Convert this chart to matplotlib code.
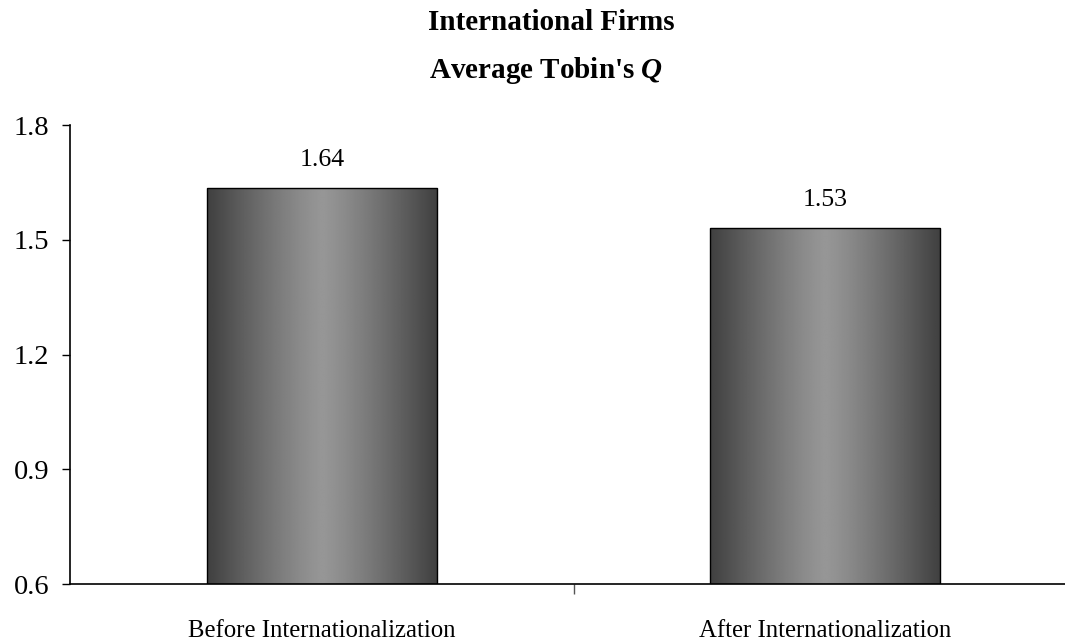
import matplotlib
matplotlib.use("Agg")
import matplotlib.pyplot as plt
import numpy as np

categories = ["Before Internationalization", "After Internationalization"]
values = [1.635, 1.530]
value_labels = ["1.64", "1.53"]
yticks = [0.6, 0.9, 1.2, 1.5, 1.8]
title1 = "International Firms"
title2 = r"Average Tobin's $\mathbfit{Q}$"

plt.rcParams['font.family'] = ['Liberation Serif', 'DejaVu Serif']
plt.rcParams['mathtext.fontset'] = 'custom'
plt.rcParams['mathtext.rm'] = 'Liberation Serif'
plt.rcParams['mathtext.bf'] = 'Liberation Serif:bold'
plt.rcParams['mathtext.it'] = 'Liberation Serif:italic'
plt.rcParams['mathtext.bfit'] = 'Liberation Serif:bold:italic'

W, H = 1065, 642
fig = plt.figure(figsize=(W/100, H/100), dpi=100)
ax = fig.add_axes([70/W, (H-584)/H, (1077-70)/W, (584-125)/H])

x = np.arange(len(categories))
bars = ax.bar(x, values, width=0.457, facecolor='none', edgecolor='black', linewidth=1.0, zorder=3)

# horizontal gradient: dark edges, light centre
t = np.linspace(-1, 1, 256)
shade = 0.25 + (0.59 - 0.25) * (1 - np.abs(t) ** 1.2)
grad = np.tile(shade, (2, 1))
for b in bars:
    x0, y0 = b.get_x(), b.get_y()
    w, h = b.get_width(), b.get_height()
    ax.imshow(grad, cmap='gray', vmin=0, vmax=1, aspect='auto',
              extent=[x0, x0 + w, 0.6, y0 + h], zorder=2, interpolation='bilinear')

for xi, v, lab in zip(x, values, value_labels):
    ax.annotate(lab, (xi, v), xytext=(0, 20.5), textcoords='offset points',
                ha='center', va='center', fontsize=18.5)

ax.set_xlim(-0.5, 1.5)
ax.set_ylim(0.6, 1.8)
ax.set_yticks(yticks)
ax.set_yticklabels([f"{v:.1f}" for v in yticks], fontsize=20.5)
ax.set_xticks(x)
ax.set_xticklabels(categories, fontsize=17.8)
ax.set_xticks([0.5], minor=True)
ax.tick_params(axis='x', which='major', length=0, pad=26)
ax.tick_params(axis='x', which='minor', length=7, width=1, direction='out', color='#555555')
ax.tick_params(axis='y', which='major', length=6, width=1, direction='out', pad=9)

for s in ['top', 'right']:
    ax.spines[s].set_visible(False)
for s in ['left', 'bottom']:
    ax.spines[s].set_linewidth(1.2)
    ax.spines[s].set_color('black')

fig.text(551/W, 1 - 23/H, title1, ha='center', va='center', fontsize=21, fontweight='bold')
fig.text(546/W, 1 - 70/H, title2, ha='center', va='center', fontsize=21, fontweight='bold')

fig.savefig("out.png", dpi=100)
